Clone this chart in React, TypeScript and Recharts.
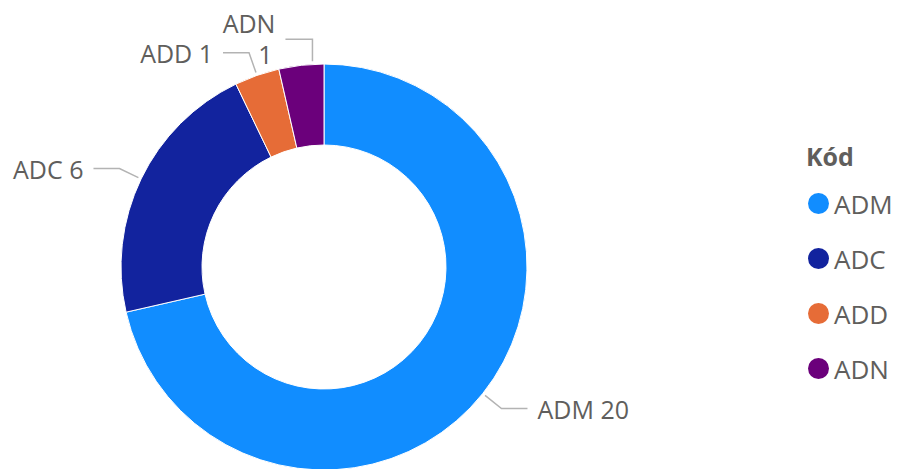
import React from 'react';
import { PieChart, Pie, Cell, Legend } from 'recharts';

const categories = ['ADM', 'ADC', 'ADD', 'ADN'];
const counts = [20, 6, 1, 1];
const colors = ['#118DFF', '#12239E', '#E66C37', '#6B007B'];
const legendTitle = 'Kód';
// labels that Power BI wraps onto two lines (no room near the top)
const wrappedLabels = ['ADN'];

const data = categories.map((name, i) => ({ name, value: counts[i] }));

const RADIAN = Math.PI / 180;
const textColor = '#605E5C';
const font = '"Open Sans", "Noto Sans", sans-serif';

const renderLabel = (props: any) => {
  const { cx, cy, midAngle, endAngle, outerRadius, name, value } = props;
  const wrap = wrappedLabels.includes(name);

  if (wrap) {
    // anchor nearer the top edge of the slice, leader goes straight up then sideways
    const a = (midAngle + endAngle) / 2;
    const sx = cx + (outerRadius + 3) * Math.cos(-a * RADIAN);
    const sy = cy + (outerRadius + 3) * Math.sin(-a * RADIAN);
    const my = sy - 22;
    const right = Math.cos(-midAngle * RADIAN) >= 0;
    const ex = sx + (right ? 1 : -1) * 27;
    const tx = ex + (right ? 1 : -1) * 10;
    return (
      <g>
        <polyline
          points={`${sx},${sy} ${sx},${my} ${ex},${my}`}
          fill='none'
          stroke='#B3B3B3'
          strokeWidth={1.5}
        />
        <text
          x={tx}
          y={my}
          textAnchor={right ? 'start' : 'end'}
          fill={textColor}
          fontSize={25}
          fontFamily={font}
        >
          <tspan x={tx} y={my - 16} dominantBaseline='central'>
            {name}
          </tspan>
          <tspan x={tx - 3} y={my + 15} dominantBaseline='central'>
            {value}
          </tspan>
        </text>
      </g>
    );
  }

  const cos = Math.cos(-midAngle * RADIAN);
  const sin = Math.sin(-midAngle * RADIAN);
  const sx = cx + (outerRadius + 3) * cos;
  const sy = cy + (outerRadius + 3) * sin;
  const mx = cx + (outerRadius + 24) * cos;
  const my = cy + (outerRadius + 24) * sin;
  const right = cos >= 0;
  const ex = mx + (right ? 1 : -1) * 26;
  const tx = ex + (right ? 1 : -1) * 10;

  return (
    <g>
      <polyline
        points={`${sx},${sy} ${mx},${my} ${ex},${my}`}
        fill='none'
        stroke='#B3B3B3'
        strokeWidth={1.5}
      />
      <text
        x={tx}
        y={my}
        textAnchor={right ? 'start' : 'end'}
        dominantBaseline='central'
        fill={textColor}
        fontSize={25}
        fontFamily={font}
      >
        {`${name} ${value}`}
      </text>
    </g>
  );
};

const renderLegend = () => (
  <div style={{ fontFamily: font, color: textColor }}>
    <div style={{ fontSize: 25, fontWeight: 700, lineHeight: '34px', marginBottom: 3 }}>
      {legendTitle}
    </div>
    {categories.map((c, i) => (
      <div
        key={c}
        style={{ display: 'flex', alignItems: 'center', height: 55, marginLeft: 2 }}
      >
        <span
          style={{
            width: 21,
            height: 21,
            borderRadius: '50%',
            background: colors[i],
            display: 'inline-block',
            marginRight: 5,
          }}
        />
        <span style={{ fontSize: 26 }}>{c}</span>
      </div>
    ))}
  </div>
);

const App = () => {
  return (
    <div style={{ position: 'absolute', left: 0, top: 0, background: '#fff' }}>
      <PieChart width={899} height={469} margin={{ top: 0, right: 0, bottom: 0, left: 0 }}>
        <Pie
          data={data}
          dataKey='value'
          nameKey='name'
          cx={324}
          cy={267}
          innerRadius={122}
          outerRadius={203}
          startAngle={90}
          endAngle={-270}
          stroke='#fff'
          strokeWidth={1}
          label={renderLabel}
          labelLine={false}
          isAnimationActive={false}
        >
          {data.map((d, i) => (
            <Cell key={d.name} fill={colors[i]} />
          ))}
        </Pie>
        <Legend
          content={renderLegend}
          wrapperStyle={{ left: 806, top: 139, width: 93 }}
        />
      </PieChart>
    </div>
  );
};

export default App;
